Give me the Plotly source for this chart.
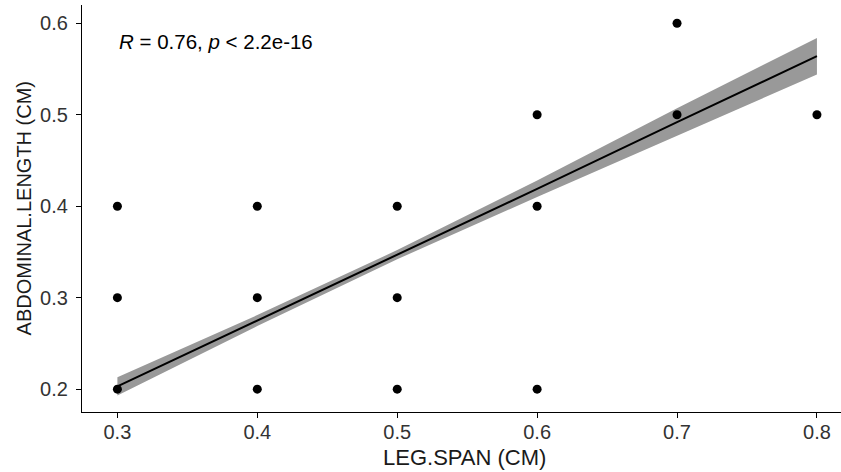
import plotly.graph_objects as go

# scatter points (LEG.SPAN, ABDOMINAL.LENGTH)
leg_span = [0.3, 0.3, 0.3, 0.4, 0.4, 0.4, 0.5, 0.5, 0.5, 0.6, 0.6, 0.6, 0.7, 0.7, 0.8]
abd_len  = [0.2, 0.3, 0.4, 0.2, 0.3, 0.4, 0.2, 0.3, 0.4, 0.2, 0.4, 0.5, 0.5, 0.6, 0.5]

# fitted regression line and confidence band
fit_x     = [0.3, 0.4, 0.5, 0.6, 0.7, 0.8]
fit_y     = [0.203, 0.275, 0.347, 0.419, 0.492, 0.564]
fit_lower = [0.193, 0.269, 0.342, 0.410, 0.477, 0.544]
fit_upper = [0.213, 0.281, 0.352, 0.428, 0.507, 0.584]

x_ticks = [0.3, 0.4, 0.5, 0.6, 0.7, 0.8]
y_ticks = [0.2, 0.3, 0.4, 0.5, 0.6]

x_title = "LEG.SPAN (CM)"
y_title = "ABDOMINAL.LENGTH (CM)"

FONT = "Liberation Sans, Arial, sans-serif"

fig = go.Figure()
fig.add_trace(go.Scatter(
    x=fit_x + fit_x[::-1], y=fit_upper + fit_lower[::-1],
    fill="toself", fillcolor="rgb(153,153,153)", line=dict(width=0),
    mode="lines", hoverinfo="skip", showlegend=False))
fig.add_trace(go.Scatter(
    x=fit_x, y=fit_y, mode="lines",
    line=dict(color="black", width=2), showlegend=False))
fig.add_trace(go.Scatter(
    x=leg_span, y=abd_len, mode="markers",
    marker=dict(color="black", size=9), showlegend=False))

fig.add_annotation(
    x=0.3, y=0.58, xref="x", yref="y", xanchor="left", yanchor="middle",
    text="<i>R</i> = 0.76, <i>p</i> < 2.2e-16", showarrow=False,
    font=dict(family=FONT, size=20.5, color="black"))

# axis titles placed as annotations for precise positioning
fig.add_annotation(
    x=0.5046, y=-0.1106, xref="paper", yref="paper", xanchor="center",
    yanchor="middle", text=x_title, showarrow=False,
    font=dict(family=FONT, size=22, color="#1a1a1a"))
fig.add_annotation(
    x=-0.0765, y=0.5, xref="paper", yref="paper", xanchor="center",
    yanchor="middle", text=y_title, showarrow=False, textangle=-90,
    font=dict(family=FONT, size=20, color="#1a1a1a"))

axis_common = dict(
    showgrid=False, zeroline=False, showline=True, linecolor="black",
    linewidth=1.3, ticks="outside", ticklen=5, tickwidth=1.3, tickcolor="black",
    tickfont=dict(family=FONT, size=20, color="#333333"),
    automargin=False)

fig.update_layout(
    width=841, height=472,
    margin=dict(l=82, r=0, t=5, b=60),
    plot_bgcolor="white", paper_bgcolor="white",
    xaxis=dict(range=[0.2747, 0.8172], tickvals=x_ticks,
               ticktext=[str(v) for v in x_ticks], ticklabelstandoff=-3,
               **axis_common),
    yaxis=dict(range=[0.175, 0.62], tickvals=y_ticks,
               ticktext=[str(v) for v in y_ticks], ticklabelstandoff=4,
               **axis_common),
)

fig.write_html("out.html", config={"displayModeBar": False},
               post_script="document.body.style.margin='0';document.body.style.overflow='hidden';")
